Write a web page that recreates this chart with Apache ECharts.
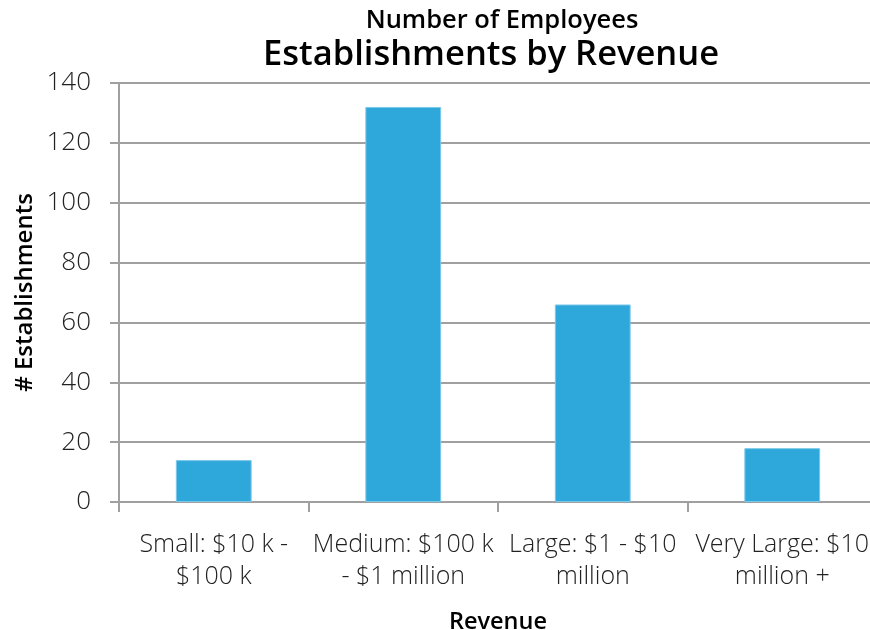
<!DOCTYPE html>
<html>
<head>
<meta charset="utf-8">
<script src="https://cdn.jsdelivr.net/npm/echarts@6/dist/echarts.min.js"></script>
<style>
  html, body { margin: 0; padding: 0; background: #fff; }
  #chart { width: 870px; height: 630px; }
</style>
</head>
<body>
<div id="chart"></div>
<script>
// Establishments grouped by revenue band
const categories = [
  'Small: $10 k -\n$100 k',
  'Medium: $100 k\n- $1 million',
  'Large: $1 - $10\nmillion',
  'Very Large: $10\nmillion +'
];
const establishments = [14, 132, 66, 18];
const yTicks = { min: 0, max: 140, interval: 20 };

const FONT = '"Open Sans", "Noto Sans", sans-serif';
const GRID_COLOR = '#a0a0a0';

const chart = echarts.init(document.getElementById('chart'), null, { renderer: 'canvas' });

chart.setOption({
  animation: false,
  backgroundColor: '#ffffff',
  title: [
    {
      text: 'Number of Employees',
      left: 497, top: 3, textAlign: 'center',
      textStyle: { fontFamily: FONT, fontSize: 25.5, fontWeight: 600, color: '#000' }
    },
    {
      text: 'Establishments by Revenue',
      left: 486, top: 33, textAlign: 'center',
      textStyle: { fontFamily: FONT, fontSize: 34.5, fontWeight: 600, color: '#000' }
    }
  ],
  grid: { left: 119, top: 83, width: 758, height: 419, outerBoundsMode: 'none', containLabel: false },
  xAxis: {
    type: 'category',
    data: categories,
    name: 'Revenue',
    nameLocation: 'middle',
    nameGap: 108,
    nameMoveOverlap: false,
    nameTextStyle: { fontFamily: FONT, fontSize: 23.5, fontWeight: 600, color: '#000' },
    axisLine: { show: true, lineStyle: { color: GRID_COLOR, width: 2 } },
    axisTick: { show: true, length: 10, alignWithLabel: false, lineStyle: { color: GRID_COLOR, width: 2 } },
    axisLabel: {
      fontFamily: FONT, fontSize: 25, fontWeight: 300, color: '#222', margin: 27,
      lineHeight: 32, interval: 0
    }
  },
  yAxis: {
    type: 'value',
    min: yTicks.min, max: yTicks.max, interval: yTicks.interval,
    name: '# Establishments',
    nameLocation: 'middle',
    nameGap: 82,
    nameMoveOverlap: false,
    nameRotate: 90,
    nameTextStyle: { fontFamily: FONT, fontSize: 24, fontWeight: 600, color: '#000' },
    axisLine: { show: true, lineStyle: { color: GRID_COLOR, width: 2 } },
    axisTick: { show: true, length: 9, lineStyle: { color: GRID_COLOR, width: 2 } },
    axisLabel: { fontFamily: FONT, fontSize: 26, fontWeight: 300, color: '#222', margin: 28 },
    splitLine: { show: true, lineStyle: { color: GRID_COLOR, width: 2 } }
  },
  series: [{
    type: 'bar',
    data: establishments,
    barWidth: '40%',
    itemStyle: { color: '#2ea7da', borderColor: '#7cc8ea', borderWidth: 1 }
  }]
});
</script>
</body>
</html>
